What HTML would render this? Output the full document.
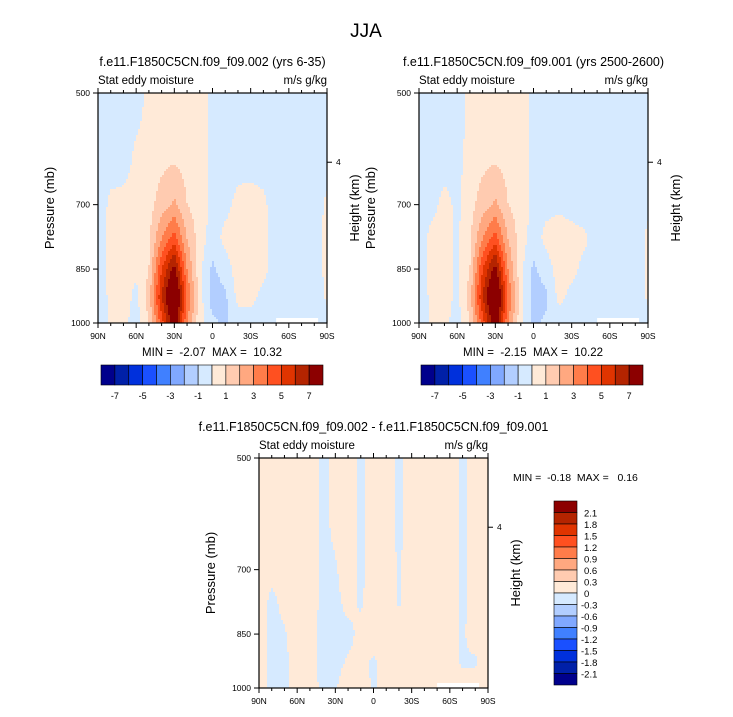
<!DOCTYPE html>
<html><head><meta charset="utf-8"><style>
body{margin:0;background:#fff;}
svg text{font-family:"Liberation Sans",sans-serif;fill:#000;white-space:pre;}
</style></head><body>
<svg id="root" width="733" height="712" viewBox="0 0 733 712" xmlns="http://www.w3.org/2000/svg">
<text x="366" y="37" font-size="19" text-anchor="middle">JJA</text>
</svg>
<script>
// ---- data ----
const lats = [90,80,70,60,50,40,30,20,10,0,-10,-20,-30,-40,-50,-60,-70,-80,-90];
const levels = [500,600,700,775,850,925,1000];
const levelsAbs = [-7,-6,-5,-4,-3,-2,-1,0,1,2,3,4,5,6,7];
const levelsDiff = [-2.1,-1.8,-1.5,-1.2,-0.9,-0.6,-0.3,0,0.3,0.6,0.9,1.2,1.5,1.8,2.1];
const cbLabelsAbs = ["-7","-5","-3","-1","1","3","5","7"];
const cbLabelsDiff = ["2.1","1.8","1.5","1.2","0.9","0.6","0.3","0","-0.3","-0.6","-0.9","-1.2","-1.5","-1.8","-2.1"];
const xTickLabels = ["90N","60N","30N","0","30S","60S","90S"];
const xTickVals = [90,60,30,0,-30,-60,-90];
const pTickVals = [500,700,850,1000];
const fieldA = [
 [-.5,-.5,-.5,-.5,.3,.6,.6,.6,.4,-.3,-.5,-.5,-.5,-.5,-.5,-.5,-.5,-.5,-.5],
 [-.5,-.5,-.5,.2,.3,.6,.7,.6,.4,-.3,-.5,-.5,-.5,-.5,-.5,-.5,-.5,-.5,-.5],
 [-.5,.2,.3,.3,.6,1.5,2.2,1,.5,-.2,-.3,.3,.4,.2,-.5,-.5,-.5,-.5,.2],
 [-.5,.3,.4,.3,.8,3,4.5,2,.5,-.5,.3,.5,.5,.3,-.5,-.5,-.5,-.5,.3],
 [-.5,.3,.5,.2,1,5,7.5,3,.3,-1.2,-.5,.5,.4,.3,-.5,-.5,-.5,-.5,.3],
 [-.5,.2,.5,-.3,1.5,6,9.5,4,.5,-1.5,-1.2,.3,.3,-.3,-.5,-.5,-.5,-.8,.2],
 [-.5,.2,.3,-.5,1,4.5,8,3,.3,-.8,-1.2,-.5,-.5,-.5,-.5,-.5,-.5,-.5,-.5]
];
const fieldB = [
 [-.5,-.5,-.5,-.5,.3,.6,.6,.6,.4,-.3,-.5,-.5,-.5,-.5,-.5,-.5,-.5,-.5,-.5],
 [-.5,-.5,-.5,-.3,.3,.6,.7,.6,.4,-.3,-.5,-.5,-.5,-.5,-.5,-.5,-.5,-.5,-.5],
 [-.5,-.3,.3,-.2,.6,1.5,2.2,1,.5,-.2,-.3,-.2,-.3,-.5,-.5,-.5,-.5,-.5,-.2],
 [-.5,.3,.4,-.2,.8,3,4.5,2,.5,-.5,.3,.5,.3,.2,-.5,-.5,-.5,-.5,.2],
 [-.5,.3,.5,-.2,1,5,7.5,3,.3,-1.2,-.5,.5,.3,-.3,-.5,-.5,-.5,-.5,.2],
 [-.5,.2,.5,-.3,1.5,6,9.5,4,.5,-1.5,-1.2,.3,-.3,-.3,-.5,-.5,-.5,-.8,.2],
 [-.5,.2,.3,-.5,1,4.5,8,3,.3,-1.2,-.8,-.5,-.7,-.5,-.5,-.5,-.5,-.5,-.5]
];
const fieldD = [
 [.1,.1,.1,.1,.1,-.05,.05,.1,-.05,.1,.1,-.05,.1,.1,.1,.1,-.05,.1,.1],
 [.1,.1,.1,.1,.1,-.05,.05,.1,-.05,.1,.1,-.05,.1,.1,.1,.1,-.05,.1,.1],
 [.1,.05,.1,.1,.1,-.05,-.02,.1,-.05,.1,.1,-.02,.1,.1,.1,.1,-.05,.1,.1],
 [.1,-.05,.05,.1,.1,-.05,-.05,.05,-.02,.1,.1,-.02,.1,.1,.1,.1,-.05,.1,.1],
 [.1,-.05,-.02,.1,.05,-.05,-.05,-.05,.05,.1,.1,.1,.1,.1,.1,.1,-.03,.1,.1],
 [.1,-.05,-.05,.1,.05,-.05,-.05,.02,.05,-.03,.1,.1,.1,.1,.1,.1,-.03,-.03,.1],
 [.1,-.05,-.05,.1,.1,-.05,-.02,.1,.1,-.03,.1,.1,.1,.1,.1,.1,.1,.1,.1]
];
const colors = ["#00008c","#0020a8","#0030dc","#1a50ff","#4080ff","#80a8ff","#b2ceff","#d6eaff","#ffead8","#ffcbb0","#ffa880","#ff7c4a","#ff5020","#e03400","#b42400","#8c0000"];

const NS="http://www.w3.org/2000/svg";
const root=document.getElementById('root');
function mk(tag,attrs,parent){const e=document.createElementNS(NS,tag);for(const k in attrs)e.setAttribute(k,attrs[k]);(parent||root).appendChild(e);return e;}
function txt(s,x,y,size,anchor,parent){const t=mk('text',{x:x,y:y,'font-size':size,'text-anchor':anchor||'start'},parent);t.textContent=s;return t;}
function colorFor(v,lv){let i=0;while(i<lv.length&&v>=lv[i])i++;return colors[i];}
function sample(field,lat,p){
  let fx=(90-lat)/10; let i=Math.max(0,Math.min(Math.floor(fx),lats.length-2)); let tx=fx-i;
  const lp=Math.log(p); let j=0; while(j<levels.length-2&&lp>Math.log(levels[j+1]))j++;
  let ty=(lp-Math.log(levels[j]))/(Math.log(levels[j+1])-Math.log(levels[j]));
  const a=field[j][i],b=field[j][i+1],c=field[j+1][i],d=field[j+1][i+1];
  return (a*(1-tx)+b*tx)*(1-ty)+(c*(1-tx)+d*tx)*ty;
}
function drawPlot(px,py,field,lv,name,title){
  const W=229,H=230;
  const g=mk('g',{});
  
  
  const xS=lat=>px+(90-lat)/180*W;
  const yS=p=>py+(Math.log(p)-Math.log(500))/(Math.log(1000)-Math.log(500))*H;
  const yInv=y=>Math.exp(Math.log(500)+(y-py)/H*(Math.log(1000)-Math.log(500)));
  const step=2;
  for(let y=py;y<py+H;y+=step){
    const p=yInv(Math.min(y+step/2,py+H));
    let x0=px,cur=null;
    for(let x=px;x<px+W;x+=step){
      const c=colorFor(sample(field,90-(x+step/2-px)/W*180,p),lv);
      if(c!==cur){ if(cur){const r=mk('rect',{x:x0,y:y,width:x-x0+0.5,height:step+0.5,fill:cur},g);} cur=c;x0=x;}
    }
    const r=mk('rect',{x:x0,y:y,width:px+W-x0,height:Math.min(step+0.5,py+H-y),fill:cur},g);
    
    
  }
  const miss=mk('rect',{x:xS(-50),y:yS(985),width:xS(-83)-xS(-50),height:yS(1000)-yS(985),fill:'#fff'},g);
  
  
  const fr=mk('rect',{x:px,y:py,width:W,height:H,fill:'none',stroke:'#000','stroke-width':1.2},g);
  
  
  for(let lat=90;lat>=-90;lat-=10){
    const x=xS(lat), major=lat%30===0, l=major?5:3;
    mk('line',{x1:x,y1:py+H,x2:x,y2:py+H+l,stroke:'#000'},g);
    mk('line',{x1:x,y1:py,x2:x,y2:py-l,stroke:'#000'},g);
  }
  xTickVals.forEach((v,k)=>{const t=txt(xTickLabels[k],xS(v),py+H+16,8.5,'middle',g);});
  pTickVals.forEach(v=>{mk('line',{x1:px,y1:yS(v),x2:px-5,y2:yS(v),stroke:'#000'},g);const t=txt(String(v),px-8,yS(v)+3,8.5,'end',g);});
  const y4=yS(616);
  mk('line',{x1:px+W,y1:y4,x2:px+W+5,y2:y4,stroke:'#000'},g);
  const t4=txt('4',px+W+9,y4+3,8.5,'start',g);
  
  
  const tt=txt(title,px+W/2,py-27,12.5,'middle',g);
  
  
  const ls=txt('Stat eddy moisture',px,py-9,11.5,'start',g);
  
  
  const us=txt('m/s g/kg',px+W,py-9,11.5,'end',g);
  
  
  const yl=txt('Pressure (mb)',0,0,13,'middle',g);
  yl.setAttribute('transform',`translate(${px-44},${py+H/2}) rotate(-90)`);
  
  
  const hl=txt('Height (km)',0,0,13,'middle',g);
  hl.setAttribute('transform',`translate(${px+W+32},${py+H/2}) rotate(-90)`);
  
  
}
function hBar(x,y,w,h,name){
  const g=mk('g',{});
  
  
  const bw=w/16;
  colors.forEach((c,i)=>{const r=mk('rect',{x:x+i*bw,y:y,width:bw,height:h,fill:c,stroke:'#000','stroke-width':0.6},g);});
  cbLabelsAbs.forEach((s,k)=>{const t=txt(s,x+(1+2*k)*bw,y+h+14,9,'middle',g);});
}
drawPlot(98,93,fieldA,levelsAbs,'plot-case-002','f.e11.F1850C5CN.f09_f09.002 (yrs 6-35)');
drawPlot(419,93,fieldB,levelsAbs,'plot-case-001','f.e11.F1850C5CN.f09_f09.001 (yrs 2500-2600)');
drawPlot(259,458,fieldD,levelsDiff,'plot-difference','f.e11.F1850C5CN.f09_f09.002 - f.e11.F1850C5CN.f09_f09.001');
let m1=txt('MIN =  -2.07  MAX =  10.32',212,356,11.5,'middle');


let m2=txt('MIN =  -2.15  MAX =  10.22',533,356,11.5,'middle');


let m3=txt('MIN =  -0.18  MAX =   0.16',513,481,10.5,'start');


hBar(101,365,222,20,'colorbar-left');
hBar(421,365,222,20,'colorbar-right');
(function(){
  const x=554,y=501,w=23,h=184,bh=h/16;
  const g=mk('g',{});
  
  
  for(let i=0;i<16;i++){const r=mk('rect',{x:x,y:y+i*bh,width:w,height:bh,fill:colors[15-i],stroke:'#000','stroke-width':0.6},g);}
  cbLabelsDiff.forEach((s,k)=>{const t=txt(s,s[0]==='-'?x+w+4:x+w+7,y+(k+1)*bh+4,9.5,'start',g);});
})();
</script>
</body></html>
